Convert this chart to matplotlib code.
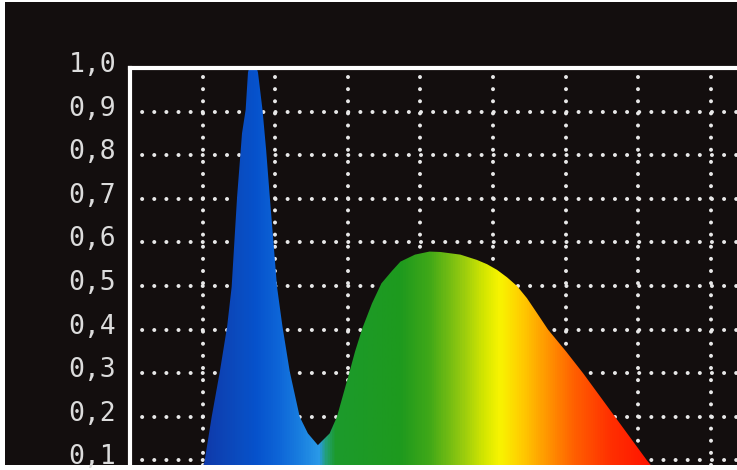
import numpy as np
import matplotlib
matplotlib.use("Agg")
import matplotlib.pyplot as plt
import matplotlib.colors as cls
import matplotlib.transforms as mtransforms
from matplotlib.patches import Rectangle, Polygon

# Espectro (comprimento de onda em nm, intensidade relativa)
wl = [412, 421, 425, 429.5, 433.5, 436, 437.5, 439, 441, 441.7, 443.7, 445, 447.5,
      450.5, 453, 455, 457, 459, 461, 464, 468, 473.5, 478, 483.5, 490, 494,
      501, 504, 508, 513.3, 518.5, 524.4, 529, 537, 545, 551, 562, 571, 576.7,
      582.2, 587.7, 593.2, 598.7, 604.2, 610.3, 620.2, 629.6, 638.4, 647.2, 656, 664.8,
      674.7, 684.7]
intens = [0.0, 0.096, 0.2, 0.304, 0.407, 0.498, 0.602, 0.705, 0.812, 0.85, 0.904, 0.99, 1.03,
          0.99, 0.904, 0.812, 0.705, 0.602, 0.498, 0.407, 0.304, 0.2, 0.162, 0.135, 0.162, 0.2,
          0.304, 0.35, 0.403, 0.46, 0.506, 0.535, 0.556, 0.572, 0.579, 0.578, 0.572, 0.56, 0.55,
          0.537, 0.52, 0.50, 0.472, 0.438, 0.40, 0.35, 0.30, 0.25, 0.20, 0.15, 0.10,
          0.05, 0.0]

y_ticks = [0.1, 0.2, 0.3, 0.4, 0.5, 0.6, 0.7, 0.8, 0.9, 1.0]
y_labels = ['0,1', '0,2', '0,3', '0,4', '0,5', '0,6', '0,7', '0,8', '0,9', '1,0']
x_grid = [420, 460, 500, 540, 580, 620, 660, 700]

# Cores do gradiente (nm, cor)
stops_nm = [380, 418, 440, 449, 462, 474, 484, 488, 493, 529, 545, 562, 576, 584, 595, 609, 625, 645, 667, 715]
stops_cor = ['#102c90', '#1038a8', '#0a4cc0', '#0652cc', '#0e66d8', '#1a80e0', '#2a9ae8',
             '#22a070', '#1c9a2c', '#1e9a1e', '#40a818', '#90c810', '#d8e800', '#f8f400',
             '#ffd000', '#ff9a00', '#ff6000', '#ff3000', '#ff1400', '#ff0000']

x0, x1 = 380, 714.4
fundo = '#130e0e'

fig = plt.figure(figsize=(7.37, 4.70), dpi=100, facecolor='white')
fig.patches.append(Rectangle((5 / 737, 5 / 470), 1.0, 1 - 2 / 470 - 5 / 470,
                             transform=fig.transFigure, facecolor=fundo,
                             edgecolor='none', zorder=-10))

ax = fig.add_axes([130 / 737, 5 / 470, 1 - 130 / 737, (465 - 68) / 470])
ax.set_facecolor(fundo)

# Grade pontilhada
ax.set_yticks(y_ticks)
ax.set_yticklabels(y_labels)
ax.set_xticks(x_grid)
ax.set_xticklabels([])
ax.grid(True, color='#e8e8e8', linewidth=2.9, linestyle=(0, (0.01, 3.0)),
        dash_capstyle='round', zorder=1)
ax.set_axisbelow(True)
ax.tick_params(axis='both', length=0)
ax.tick_params(axis='y', colors='#dcdcdc', labelsize=19, pad=10)
for lab in ax.get_yticklabels():
    lab.set_family('DejaVu Sans Mono')
    lab.set_transform(lab.get_transform() +
                      mtransforms.ScaledTranslation(0, 6 / 100, fig.dpi_scale_trans))

for lado in ['right', 'bottom']:
    ax.spines[lado].set_visible(False)
for lado in ['top', 'left']:
    ax.spines[lado].set_color('white')
    ax.spines[lado].set_linewidth(3)
    ax.spines[lado].set_zorder(5)

# Preenchimento com gradiente espectral
s0, s1 = stops_nm[0], stops_nm[-1]
pos = [(n - s0) / (s1 - s0) for n in stops_nm]
cmap = cls.LinearSegmentedColormap.from_list('espectro', list(zip(pos, stops_cor)))
grad = np.linspace(0, 1, 800).reshape(1, -1)
img = ax.imshow(grad, cmap=cmap, aspect='auto', extent=[s0, s1, 0, 1.05],
                origin='lower', zorder=2)
poly = Polygon(np.column_stack([wl, intens]), closed=True,
               transform=ax.transData, facecolor='none', edgecolor='none')
ax.add_patch(poly)
img.set_clip_path(poly)
ax.set_xlim(x0, x1)
ax.set_ylim(1.0 - (465 - 68) / 436, 1.0)

fig.savefig('out.png', dpi=100, facecolor='white')
